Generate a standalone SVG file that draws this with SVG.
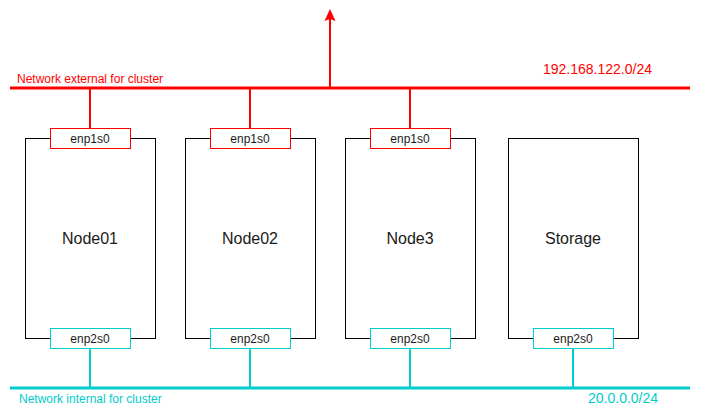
<svg xmlns="http://www.w3.org/2000/svg" width="714" height="409" viewBox="0 0 714 409">
<style>
text{font-family:"Liberation Sans",Arial,sans-serif}
.node{fill:#fff;stroke:#000;stroke-width:1}
.nlabel{font-size:16px;fill:#1a1a1a;text-anchor:middle}
.ext{fill:#fff;stroke:#ff0000;stroke-width:1}
.int{fill:#fff;stroke:#00cccc;stroke-width:1}
.ifl{font-size:12px;fill:#1a1a1a;text-anchor:middle}
.red{stroke:#ff0000;fill:none}
.cyan{stroke:#00cccc;fill:none}
</style>
<defs>
<marker id="ah" markerWidth="12" markerHeight="12" viewBox="0 0 12 12" refX="10" refY="6" orient="auto" markerUnits="userSpaceOnUse">
<path d="M12,6 L0,0.5 L2,6 L0,11.5 Z" fill="#ff0000"/>
</marker>
</defs>
<g id="connectors">
<line class="red" x1="10" y1="88" x2="690" y2="88" stroke-width="3"/>
<line class="red" x1="330" y1="88" x2="330" y2="11" stroke-width="2" marker-end="url(#ah)"/>
<line class="red" x1="90" y1="88" x2="90" y2="128" stroke-width="2"/>
<line class="red" x1="250" y1="88" x2="250" y2="128" stroke-width="2"/>
<line class="red" x1="410" y1="88" x2="410" y2="128" stroke-width="2"/>
<line class="cyan" x1="10" y1="388" x2="690" y2="388" stroke-width="3"/>
<line class="cyan" x1="90" y1="348" x2="90" y2="388" stroke-width="2"/>
<line class="cyan" x1="250" y1="348" x2="250" y2="388" stroke-width="2"/>
<line class="cyan" x1="410" y1="348" x2="410" y2="388" stroke-width="2"/>
<line class="cyan" x1="573" y1="348" x2="573" y2="388" stroke-width="2"/>
</g>
<g id="labels">
<text x="17" y="83" font-size="12" fill="#ff0000">Network external for cluster</text>
<text x="543" y="74" font-size="14" fill="#ff0000">192.168.122.0/24</text>
<text x="19" y="403" font-size="12" fill="#00cccc">Network internal for cluster</text>
<text x="588" y="403" font-size="14" fill="#00cccc">20.0.0.0/24</text>
</g>
<g id="node01">
<rect class="node" x="25.5" y="138.5" width="130" height="200"/>
<text class="nlabel" x="90" y="244">Node01</text>
</g>
<g id="node02">
<rect class="node" x="185.5" y="138.5" width="130" height="200"/>
<text class="nlabel" x="250" y="244">Node02</text>
</g>
<g id="node3">
<rect class="node" x="345.5" y="138.5" width="130" height="200"/>
<text class="nlabel" x="410" y="244">Node3</text>
</g>
<g id="storage">
<rect class="node" x="508.5" y="138.5" width="130" height="200"/>
<text class="nlabel" x="573" y="244">Storage</text>
</g>
<g id="node01-enp1s0"><rect class="ext" x="50.5" y="128.5" width="80" height="20"/><text class="ifl" x="90" y="143">enp1s0</text></g>
<g id="node02-enp1s0"><rect class="ext" x="210.5" y="128.5" width="80" height="20"/><text class="ifl" x="250" y="143">enp1s0</text></g>
<g id="node3-enp1s0"><rect class="ext" x="370.5" y="128.5" width="80" height="20"/><text class="ifl" x="410" y="143">enp1s0</text></g>
<g id="node01-enp2s0"><rect class="int" x="50.5" y="328.5" width="80" height="20"/><text class="ifl" x="90" y="343">enp2s0</text></g>
<g id="node02-enp2s0"><rect class="int" x="210.5" y="328.5" width="80" height="20"/><text class="ifl" x="250" y="343">enp2s0</text></g>
<g id="node3-enp2s0"><rect class="int" x="370.5" y="328.5" width="80" height="20"/><text class="ifl" x="410" y="343">enp2s0</text></g>
<g id="storage-enp2s0"><rect class="int" x="533.5" y="328.5" width="80" height="20"/><text class="ifl" x="573" y="343">enp2s0</text></g>
</svg>
